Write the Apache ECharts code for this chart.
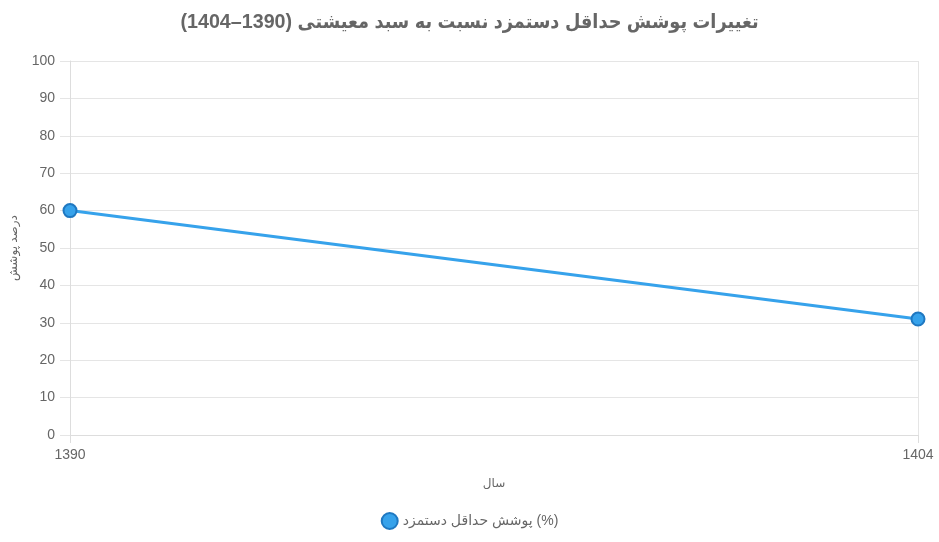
<!DOCTYPE html>
<html><head><meta charset="utf-8">
<script src="https://cdn.jsdelivr.net/npm/echarts@6/dist/echarts.min.js"></script>
<style>html,body{margin:0;padding:0;background:#fff}#c{width:939px;height:542px}</style>
</head><body><div id="c" dir="rtl"></div>
<script>
const titleText = 'تغییرات پوشش حداقل دستمزد نسبت به سبد معیشتی (1390–1404)';
const years = ['1390', '1404'];
const coverage = [60, 31];
const seriesName = '(%) پوشش حداقل دستمزد';
const yAxisName = 'درصد پوشش';
const xAxisName = 'سال';

const chart = echarts.init(document.getElementById('c'));
chart.setOption({
  animation: false,
  textStyle: {fontFamily: 'Arial, "Liberation Sans", "DejaVu Sans", sans-serif'},
  title: {
    text: titleText, left: 'center', top: 8,
    textStyle: {fontSize: 19.7, fontWeight: 'bold', color: '#666',
      fontFamily: '"Liberation Sans", "DejaVu Sans Condensed", "DejaVu Sans", sans-serif'}
  },
  legend: {
    bottom: 7, left: 'center',
    data: [{name: seriesName, icon: 'circle'}],
    itemWidth: 16, itemHeight: 16,
    textStyle: {fontSize: 14, color: '#666'}
  },
  grid: {left: 70, right: 21, top: 61, bottom: 107, containLabel: false, outerBoundsMode: 'none'},
  xAxis: {
    type: 'category', data: years, boundaryGap: false,
    name: xAxisName, nameLocation: 'middle', nameGap: 43,
    nameTextStyle: {fontSize: 12, color: '#666'},
    axisLine: {show: true, lineStyle: {color: '#ddd'}},
    axisTick: {show: true, length: 8, lineStyle: {color: '#ddd'}},
    axisLabel: {fontSize: 14, color: '#666', margin: 13},
    splitLine: {show: true, lineStyle: {color: '#e5e5e5'}}
  },
  yAxis: {
    type: 'value', min: 0, max: 100, interval: 10,
    name: yAxisName, nameLocation: 'middle', nameGap: 50, nameRotate: 90,
    nameTextStyle: {fontSize: 12, color: '#666'},
    axisLine: {show: true, lineStyle: {color: '#ddd'}},
    axisTick: {show: true, length: 10, lineStyle: {color: '#e5e5e5'}},
    axisLabel: {fontSize: 14, color: '#666', margin: 15},
    splitLine: {show: true, lineStyle: {color: '#e5e5e5'}}
  },
  series: [{
    name: seriesName, type: 'line', data: coverage,
    symbol: 'circle', symbolSize: 13,
    lineStyle: {color: '#36A2EB', width: 3},
    itemStyle: {color: '#36A2EB', borderColor: '#1f78c1', borderWidth: 2}
  }]
});
</script></body></html>
